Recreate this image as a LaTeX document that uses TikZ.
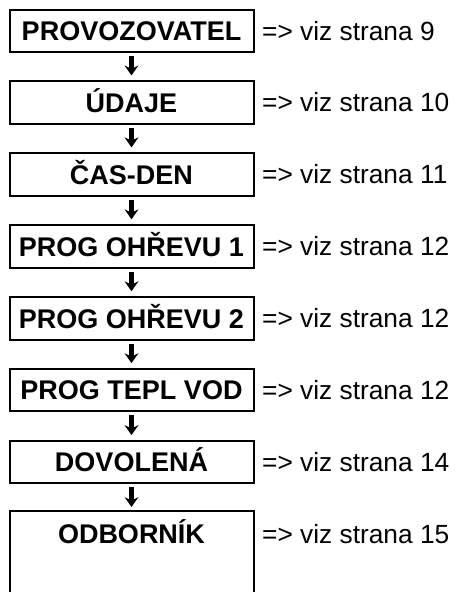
\documentclass[tikz,border=0pt]{standalone}
\usepackage{fontspec}
\setmainfont{Liberation Sans}
\usetikzlibrary{arrows.meta}
\begin{document}
\begin{tikzpicture}[x=1pt,y=-1pt,
  menubox/.style={draw, line width=2pt, minimum width=244pt, minimum height=42.3pt,
    inner sep=0pt, font=\fontsize{27}{31}\selectfont\bfseries,
    text height=19.3pt, text depth=0pt},
  pageref/.style={anchor=west, inner sep=0pt, font=\fontsize{26.3}{30}\selectfont,
    text height=18.8pt, text depth=0pt},
  seqarrow/.style={line width=4.5pt,
    -{Stealth[length=10pt,width=14pt,inset=3.5pt,line width=0pt]},
    shorten <=3pt, shorten >=5pt}]
\useasboundingbox (0,0) rectangle (456,592);
\fill[white] (0,0) rectangle (456,592);
\clip (0,0) rectangle (456,592);

% menu items
\node[menubox] (b1) at (131.5,30.65)  {PROVOZOVATEL};
\node[menubox] (b2) at (131.5,102.58) {ÚDAJE};
\node[menubox] (b3) at (131.5,174.51) {ČAS-DEN};
\node[menubox] (b4) at (131.5,246.44) {PROG OHŘEVU 1};
\node[menubox] (b5) at (131.5,318.37) {PROG OHŘEVU 2};
\node[menubox] (b6) at (131.5,390.30) {PROG TEPL VOD};
\node[menubox] (b7) at (131.5,462.23) {DOVOLENÁ};
\node[menubox, draw=none] (b8) at (131.5,534.15) {ODBORNÍK};
% last item: frame open at the bottom
\draw[line width=2pt] ([xshift=1pt]b8.west |- 0,620) |- ([yshift=1pt]b8.north)
  -| ([xshift=-1pt]b8.east |- 0,620);

% page references
\node[pageref] (r1) at (262,30.65)  {=> viz strana 9};
\node[pageref] (r2) at (262,102.58) {=> viz strana 10};
\node[pageref] (r3) at (262,174.51) {=> viz strana 11};
\node[pageref] (r4) at (262,246.44) {=> viz strana 12};
\node[pageref] (r5) at (262,318.37) {=> viz strana 12};
\node[pageref] (r6) at (262,390.30) {=> viz strana 12};
\node[pageref] (r7) at (262,462.23) {=> viz strana 14};
\node[pageref] (r8) at (262,534.15) {=> viz strana 15};

% sequence arrows
\draw[seqarrow] (b1.south) -- (b2.north);
\draw[seqarrow] (b2.south) -- (b3.north);
\draw[seqarrow] (b3.south) -- (b4.north);
\draw[seqarrow] (b4.south) -- (b5.north);
\draw[seqarrow] (b5.south) -- (b6.north);
\draw[seqarrow] (b6.south) -- (b7.north);
\draw[seqarrow] (b7.south) -- (b8.north);
\end{tikzpicture}
\end{document}
